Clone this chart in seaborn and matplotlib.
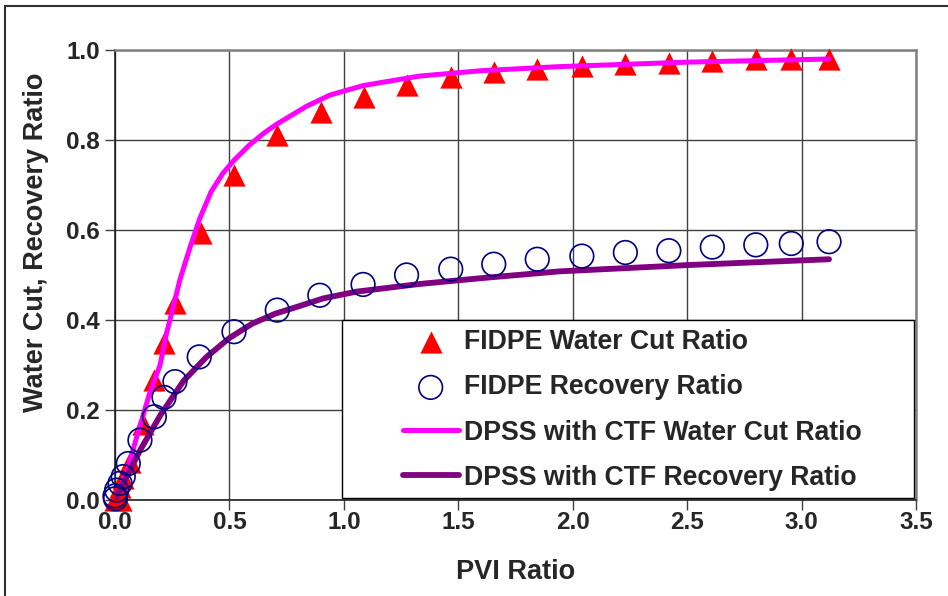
import matplotlib
matplotlib.use("Agg")
import matplotlib.pyplot as plt
import seaborn as sns
import pandas as pd
from matplotlib.patches import Rectangle

# ---- data ----
wc_pvi = [0.0, 0.007, 0.022, 0.026, 0.036, 0.066, 0.121, 0.172, 0.215, 0.262, 0.374,
          0.52, 0.71, 0.90, 1.087, 1.277, 1.467, 1.655, 1.845, 2.04, 2.23, 2.42,
          2.61, 2.80, 2.955, 3.12]
wc_ratio = [0.0, 0.007, 0.03, 0.0, 0.05, 0.085, 0.17, 0.267, 0.35, 0.437, 0.593,
            0.722, 0.811, 0.863, 0.895, 0.922, 0.94, 0.952, 0.958, 0.964, 0.968, 0.972,
            0.976, 0.98, 0.98, 0.98]

rec_pvi = [0.0, 0.002, 0.007, 0.022, 0.036, 0.058, 0.109, 0.172, 0.214, 0.262, 0.368,
           0.52, 0.709, 0.895, 1.084, 1.274, 1.467, 1.655, 1.845, 2.04, 2.23, 2.42,
           2.61, 2.80, 2.955, 3.12]
rec_ratio = [0.009, 0.003, 0.022, 0.037, 0.052, 0.081, 0.133, 0.185, 0.228, 0.263, 0.318,
             0.374, 0.422, 0.455, 0.479, 0.50, 0.513, 0.524, 0.535, 0.542, 0.55, 0.554,
             0.562, 0.567, 0.570, 0.574]

dpss_wc_pvi = [0.0, 0.05, 0.095, 0.15, 0.197, 0.225, 0.25, 0.284, 0.33, 0.37, 0.42,
               0.47, 0.52, 0.59, 0.65, 0.706, 0.837, 0.94, 1.085, 1.33, 1.6, 1.94,
               2.5, 3.12]
dpss_wc = [0.0, 0.06, 0.14, 0.235, 0.30, 0.37, 0.42, 0.49, 0.565, 0.625, 0.685,
           0.725, 0.755, 0.79, 0.815, 0.835, 0.875, 0.9, 0.921, 0.942, 0.954, 0.963,
           0.973, 0.98]

dpss_rec_pvi = [0.0, 0.066, 0.109, 0.2, 0.3, 0.4, 0.5, 0.6, 0.7, 0.8, 0.91, 1.055,
                1.33, 1.6, 1.94, 2.5, 3.12]
dpss_rec = [0.0, 0.067, 0.11, 0.19, 0.265, 0.318, 0.36, 0.392, 0.414, 0.43, 0.448, 0.463,
            0.48, 0.493, 0.508, 0.522, 0.535]

labels = ["FIDPE Water Cut Ratio", "FIDPE Recovery Ratio",
          "DPSS with CTF Water Cut Ratio", "DPSS with CTF Recovery Ratio"]
x_ticks = [0.0, 0.5, 1.0, 1.5, 2.0, 2.5, 3.0, 3.5]
y_ticks = [0.0, 0.2, 0.4, 0.6, 0.8, 1.0]

# ---- style ----
sns.set_theme(style="white")
plt.rcParams["font.family"] = ["Liberation Sans", "DejaVu Sans"]
plt.rcParams["font.weight"] = "bold"

fig = plt.figure(figsize=(9.48, 5.96), dpi=100)
fig.patch.set_facecolor("white")
ax = fig.add_axes([115 / 948, 96 / 596, 801 / 948, 450 / 596])
ax.set_facecolor("white")

# figure border (top and left visible)
fig.patches.append(Rectangle((5 / 948, -0.05), 1.1, (596 - 6) / 596 + 0.05,
                             transform=fig.transFigure, fill=False,
                             edgecolor="#303030", linewidth=1.5, zorder=0))

df_wc = pd.DataFrame({"x": wc_pvi, "y": wc_ratio})
df_rec = pd.DataFrame({"x": rec_pvi, "y": rec_ratio})
df_lwc = pd.DataFrame({"x": dpss_wc_pvi, "y": dpss_wc})
df_lrec = pd.DataFrame({"x": dpss_rec_pvi, "y": dpss_rec})

sns.scatterplot(data=df_wc, x="x", y="y", ax=ax, marker="^", s=16 ** 2,
                color="#FF0000", edgecolor="#FF0000", linewidth=0, zorder=3,
                clip_on=False, label=labels[0])
sns.lineplot(data=df_lwc, x="x", y="y", ax=ax, color="#FF00FF", linewidth=3.6,
             sort=False, estimator=None, zorder=4, label=labels[2])
sns.lineplot(data=df_lrec, x="x", y="y", ax=ax, color="#800080", linewidth=4.2,
             sort=False, estimator=None, zorder=4, label=labels[3])
sns.scatterplot(data=df_rec, x="x", y="y", ax=ax, marker="o", s=17 ** 2,
                facecolor="none", edgecolor="#000080", linewidth=1.2, zorder=5,
                clip_on=False, label=labels[1])

ax.set_xlim(0, 3.5)
ax.set_ylim(0, 1.0)
ax.set_xticks(x_ticks)
ax.set_yticks(y_ticks)
ax.set_xticklabels([f"{v:.1f}" for v in x_ticks])
ax.set_yticklabels([f"{v:.1f}" for v in y_ticks])
ax.tick_params(axis="both", direction="out", length=7, width=1, color="#404040",
               labelsize=17.5, pad=4, left=True, bottom=True)
ax.tick_params(axis="x", pad=1)
for lab in ax.get_xticklabels() + ax.get_yticklabels():
    lab.set_fontweight("bold")

ax.grid(True, color="#404040", linewidth=1.0, zorder=1)
ax.set_axisbelow(True)
for side in ["top", "right"]:
    ax.spines[side].set_color("#808080")
    ax.spines[side].set_linewidth(1.8)
for side in ["left", "bottom"]:
    ax.spines[side].set_color("#202020")
    ax.spines[side].set_linewidth(1.2)

ax.set_xlabel("PVI Ratio", fontsize=19.5, fontweight="bold", labelpad=18)
ax.set_ylabel("Water Cut, Recovery Ratio", fontsize=19.5, fontweight="bold", labelpad=8)
ax.yaxis.set_label_coords(-0.083, 0.573)

# legend box
ax.add_patch(Rectangle((0.2834, 0.0044), 0.9975 - 0.2834, 0.4 - 0.0044,
                       transform=ax.transAxes, facecolor="white", edgecolor="black",
                       linewidth=1.0, zorder=6))
handles, labs = ax.get_legend_handles_labels()
order = [labs.index(l) for l in labels]
leg = ax.legend([handles[i] for i in order], [labs[i] for i in order],
                loc="center left", bbox_to_anchor=(0.3425, 0.2),
                frameon=False, borderpad=0, handlelength=2.1, handletextpad=0.2,
                labelspacing=0.72, markerscale=1.0,
                prop={"family": "Liberation Sans", "weight": "bold", "size": 19.2})
leg.set_zorder(7)

fig.savefig("out.png", dpi=100, facecolor="white")
